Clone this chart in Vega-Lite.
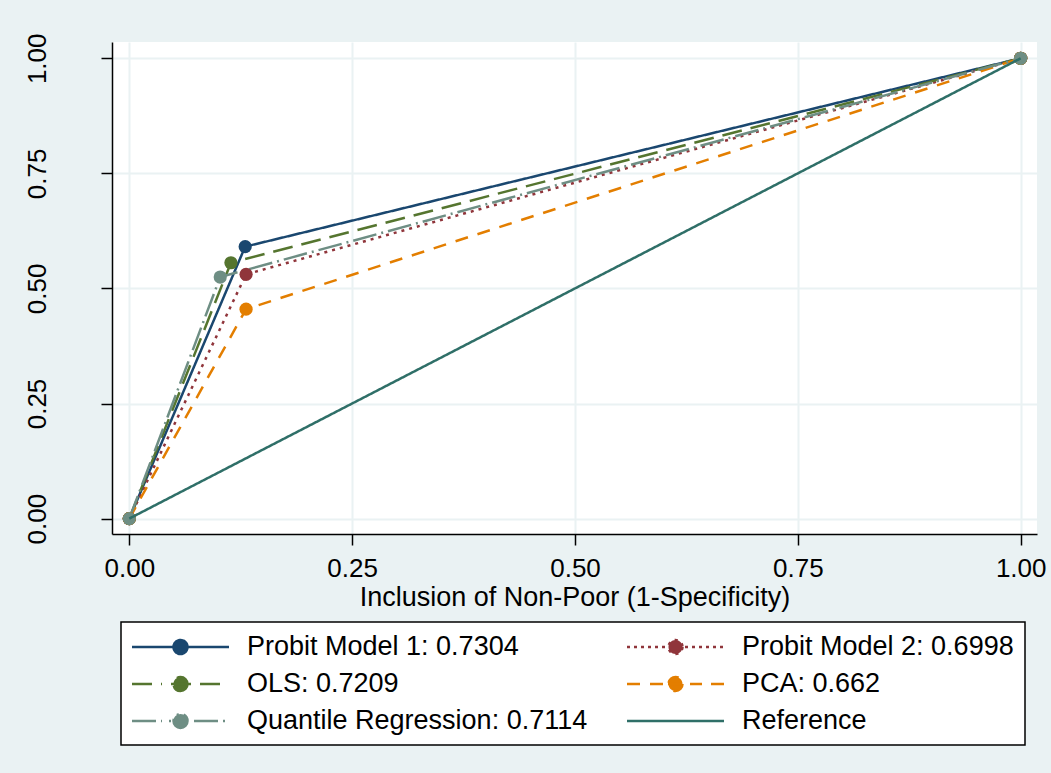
{
  "$schema": "https://vega.github.io/schema/vega-lite/v6.json",
  "width": 925,
  "height": 492,
  "autosize": {"type": "none"},
  "padding": {"left": 112, "top": 42, "right": 14, "bottom": 239},
  "background": "#EAF2F3",
  "config": {
    "font": "Liberation Sans",
    "view": {"fill": "white", "stroke": null},
    "axis": {
      "labelFont": "Liberation Sans",
      "titleFont": "Liberation Sans",
      "labelColor": "black",
      "titleColor": "black",
      "labelFontSize": 26,
      "titleFontSize": 27,
      "titleFontWeight": "normal",
      "domainColor": "black",
      "domainWidth": 1.5,
      "tickColor": "black",
      "tickWidth": 1.5,
      "tickSize": 11,
      "gridColor": "#EAF2F3",
      "gridWidth": 2,
      "gridOpacity": 1
    },
    "legend": {
      "labelFont": "Liberation Sans",
      "labelFontSize": 27,
      "labelColor": "black",
      "labelLimit": 0,
      "strokeColor": "black",
      "strokeWidth": 1.5,
      "fillColor": "white",
      "padding": 11,
      "rowPadding": 10,
      "columnPadding": 34,
      "symbolSize": 625,
      "symbolStrokeWidth": 2.5,
      "labelOffset": 87,
      "gridAlign": "each"
    }
  },
  "data": {
    "values": [
      {"series": "Probit Model 1: 0.7304", "fpr": 0, "tpr": 0},
      {"series": "Probit Model 1: 0.7304", "fpr": 0.130, "tpr": 0.5908},
      {"series": "Probit Model 1: 0.7304", "fpr": 1, "tpr": 1},
      {"series": "Probit Model 2: 0.6998", "fpr": 0, "tpr": 0},
      {"series": "Probit Model 2: 0.6998", "fpr": 0.131, "tpr": 0.5306},
      {"series": "Probit Model 2: 0.6998", "fpr": 1, "tpr": 1},
      {"series": "OLS: 0.7209", "fpr": 0, "tpr": 0},
      {"series": "OLS: 0.7209", "fpr": 0.114, "tpr": 0.5558},
      {"series": "OLS: 0.7209", "fpr": 1, "tpr": 1},
      {"series": "PCA: 0.662", "fpr": 0, "tpr": 0},
      {"series": "PCA: 0.662", "fpr": 0.131, "tpr": 0.455},
      {"series": "PCA: 0.662", "fpr": 1, "tpr": 1},
      {"series": "Quantile Regression: 0.7114", "fpr": 0, "tpr": 0},
      {"series": "Quantile Regression: 0.7114", "fpr": 0.102, "tpr": 0.5248},
      {"series": "Quantile Regression: 0.7114", "fpr": 1, "tpr": 1},
      {"series": "Reference", "fpr": 0, "tpr": 0},
      {"series": "Reference", "fpr": 1, "tpr": 1}
    ]
  },
  "encoding": {
    "x": {
      "field": "fpr", "type": "quantitative",
      "scale": {"domain": [-0.0194, 1.0183], "nice": false, "zero": false},
      "axis": {
        "values": [0, 0.25, 0.5, 0.75, 1], "format": ".2f",
        "title": "Inclusion of Non-Poor (1-Specificity)",
        "labelPadding": 10, "labelBaseline": "top", "titlePadding": 3,
        "labelFlush": false
      }
    },
    "y": {
      "field": "tpr", "type": "quantitative",
      "scale": {"domain": [-0.0335, 1.0354], "nice": false, "zero": false},
      "axis": {
        "values": [0, 0.25, 0.5, 0.75, 1], "format": ".2f",
        "title": null, "labelAngle": -90, "labelAlign": "center",
        "labelBaseline": "alphabetic", "labelPadding": 56, "labelFlush": false
      }
    },
    "color": {
      "field": "series", "type": "nominal",
      "scale": {
        "domain": ["Probit Model 1: 0.7304", "Probit Model 2: 0.6998", "OLS: 0.7209", "PCA: 0.662", "Quantile Regression: 0.7114", "Reference"],
        "range": ["#1A476F", "#90353B", "#55752F", "#E37E00", "#6E8E84", "#2F6F68"]
      },
      "legend": {
        "title": null, "orient": "none", "legendX": 9, "legendY": 580, "columns": 2,
        "direction": "horizontal",
        "encode": {
          "symbols": {
            "update": {
              "shape": {"signal": "datum.value === 'Reference' ? 'M-1.12,0H6.64' : datum.value === 'Probit Model 1: 0.7304' ? 'M-1.12,0H6.64M3.32,0A0.56,0.56 0 1,1 2.2,0A0.56,0.56 0 1,1 3.32,0Z' : datum.value === 'Probit Model 2: 0.6998' ? 'M-1.12,0H-0.88M-0.56,0H-0.32M0,0H0.24M0.56,0H0.8M1.12,0H1.36M1.68,0H1.92M3.52,0H3.76M4.08,0H4.32M4.64,0H4.88M5.2,0H5.44M5.76,0H6M6.32,0H6.56M3.32,0A0.56,0.56 0 1,1 2.2,0A0.56,0.56 0 1,1 3.32,0Z' : datum.value === 'OLS: 0.7209' ? 'M-1.12,0H1.28M2,0H3.6M4.32,0H6.64M3.32,0A0.56,0.56 0 1,1 2.2,0A0.56,0.56 0 1,1 3.32,0Z' : datum.value === 'PCA: 0.662' ? 'M-1.12,0H0.08M0.72,0H1.84M2.16,0H3.36M3.92,0H4.88M5.6,0H6.64M3.32,0A0.56,0.56 0 1,1 2.2,0A0.56,0.56 0 1,1 3.32,0Z' : 'M-1.12,0H1.28M1.84,0H2M2.4,0H3.12M3.84,0H6.64M3.32,0A0.56,0.56 0 1,1 2.2,0A0.56,0.56 0 1,1 3.32,0Z'"},
              "fill": {"scale": "color", "field": "value"},
              "stroke": {"scale": "color", "field": "value"},
              "strokeDash": {"value": [1, 0]},
              "opacity": {"value": 1}
            }
          }
        }
      }
    },
    "strokeDash": {
      "field": "series", "type": "nominal",
      "scale": {
        "domain": ["Probit Model 1: 0.7304", "Probit Model 2: 0.6998", "OLS: 0.7209", "PCA: 0.662", "Quantile Regression: 0.7114", "Reference"],
        "range": [[1, 0], [3, 5], [20, 9], [13, 10], [24, 5, 2, 5], [1, 0]]
      },
      "legend": null
    }
  },
  "layer": [
    {
      "transform": [{"filter": "datum.series !== 'Reference'"}],
      "mark": {"type": "line", "strokeWidth": 2.5}
    },
    {
      "transform": [{"filter": "datum.series !== 'Reference'"}],
      "mark": {"type": "point", "filled": true, "size": 175, "opacity": 1, "shape": "circle"},
      "encoding": {"strokeDash": {"value": [1, 0]}}
    },
    {
      "transform": [{"filter": "datum.series === 'Reference'"}],
      "mark": {"type": "line", "strokeWidth": 2.5}
    }
  ]
}
